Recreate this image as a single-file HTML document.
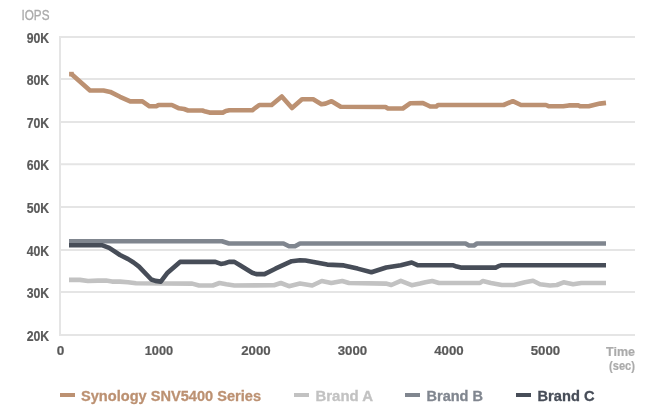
<!DOCTYPE html>
<html><head><meta charset="utf-8"><style>
html,body{margin:0;padding:0;background:#fff;width:660px;height:412px;overflow:hidden}
svg{display:block;will-change:transform;font-family:"Liberation Sans",sans-serif}
</style></head><body>
<svg width="660" height="412" viewBox="0 0 660 412">
<g stroke="#e5e5e5" stroke-width="2" fill="none"><line x1="59" y1="37" x2="635" y2="37"/><line x1="59" y1="79" x2="635" y2="79"/><line x1="59" y1="122" x2="635" y2="122"/><line x1="59" y1="164.3" x2="635" y2="164.3"/><line x1="59" y1="207" x2="635" y2="207"/><line x1="59" y1="250" x2="635" y2="250"/><line x1="59" y1="292" x2="635" y2="292"/><line x1="59" y1="335" x2="635" y2="335"/><line x1="60" y1="36" x2="60" y2="336"/></g>
<text x="21.5" y="19.5" fill="#ababab" stroke="#ababab" stroke-width="0.3" font-size="14" textLength="28" lengthAdjust="spacingAndGlyphs">IOPS</text>
<g fill="#595959" stroke="#595959" stroke-width="0.2" font-size="14.2" font-weight="bold" text-anchor="end"><text x="49.2" y="42.70" textLength="22.5" lengthAdjust="spacingAndGlyphs">90K</text><text x="49.2" y="84.70" textLength="22.5" lengthAdjust="spacingAndGlyphs">80K</text><text x="49.2" y="127.70" textLength="22.5" lengthAdjust="spacingAndGlyphs">70K</text><text x="49.2" y="170.00" textLength="22.5" lengthAdjust="spacingAndGlyphs">60K</text><text x="49.2" y="212.70" textLength="22.5" lengthAdjust="spacingAndGlyphs">50K</text><text x="49.2" y="255.70" textLength="22.5" lengthAdjust="spacingAndGlyphs">40K</text><text x="49.2" y="297.70" textLength="22.5" lengthAdjust="spacingAndGlyphs">30K</text><text x="49.2" y="340.70" textLength="22.5" lengthAdjust="spacingAndGlyphs">20K</text></g>
<g fill="#595959" stroke="#595959" stroke-width="0.2" font-size="13.6" font-weight="bold"><text x="60.5" y="355.4" text-anchor="middle">0</text><text x="159" y="355.4" text-anchor="middle" textLength="28.5" lengthAdjust="spacingAndGlyphs">1000</text><text x="256" y="355.4" text-anchor="middle" textLength="29.5" lengthAdjust="spacingAndGlyphs">2000</text><text x="352.5" y="355.4" text-anchor="middle" textLength="29.5" lengthAdjust="spacingAndGlyphs">3000</text><text x="449" y="355.4" text-anchor="middle" textLength="29.5" lengthAdjust="spacingAndGlyphs">4000</text><text x="545.5" y="355.4" text-anchor="middle" textLength="29.5" lengthAdjust="spacingAndGlyphs">5000</text></g>
<g fill="#ababab" stroke="#ababab" stroke-width="0.2" font-size="13" font-weight="bold" text-anchor="end"><text x="635" y="356" textLength="29" lengthAdjust="spacingAndGlyphs">Time</text><text x="635" y="369.5" textLength="26" lengthAdjust="spacingAndGlyphs">(sec)</text></g>
<g fill="none" stroke-width="4.6" stroke-linejoin="round">
<polyline stroke="#bc9172" points="71.4,74.1 90.0,90.5 103.5,90.5 110.3,91.9 120.0,96.8 130.2,101.4 142.4,101.4 149.5,106.3 156.3,106.3 158.5,105.0 171.9,105.0 179.0,108.3 184.1,109.0 188.1,110.5 202.4,110.5 205.5,111.6 209.5,112.6 222.8,112.6 225.8,111.0 229.4,110.2 252.2,110.3 259.3,105.0 271.6,105.0 281.8,96.5 292.0,108.0 302.0,99.3 313.2,99.3 321.4,104.2 325.5,103.6 331.6,101.2 340.7,106.8 385.5,107.0 388.0,108.5 402.8,108.5 410.4,103.2 423.0,103.1 427.1,105.0 430.2,106.5 436.3,106.5 438.0,105.0 503.6,105.0 512.8,101.2 521.0,105.0 546.0,105.0 549.0,106.3 563.2,106.3 568.8,105.4 578.5,105.4 580.0,106.3 588.7,106.3 593.8,105.0 599.9,103.6 606.0,102.9"/><rect x="69.1" y="71.8" width="4.6" height="4.6" fill="#bc9172" stroke="none"/>
<polyline stroke="#c2c2c2" points="69.0,279.9 80.0,279.9 88.0,281.0 98.0,280.6 106.0,280.6 112.0,281.6 120.0,281.6 128.0,282.3 136.0,283.3 192.2,283.6 199.0,285.5 212.7,285.5 219.5,283.0 226.3,284.3 234.4,285.5 274.0,285.2 280.8,283.0 289.0,286.2 300.0,283.6 312.2,285.5 321.8,281.0 331.3,283.0 342.2,281.0 349.0,283.0 385.9,283.6 391.3,285.0 400.8,280.8 411.7,285.2 420.0,283.6 425.4,282.3 432.2,281.0 439.0,283.0 480.0,283.0 482.7,281.0 490.9,283.0 501.8,285.0 514.0,285.0 524.9,282.3 533.0,280.8 540.0,284.3 550.0,285.5 556.8,285.0 563.6,282.3 573.1,284.3 581.3,283.0 606.0,283.0"/>
<polyline stroke="#80868f" points="69.0,241.2 222.0,241.2 229.0,243.5 283.5,243.5 289.0,246.2 295.0,246.2 300.0,243.5 465.6,243.5 469.0,245.5 474.0,245.5 477.0,243.5 606.0,243.5"/>
<polyline stroke="#474d58" points="69.0,245.3 102.5,245.3 109.2,247.8 120.0,255.0 128.2,259.1 133.6,262.5 139.0,266.6 151.3,279.5 155.4,280.9 160.8,281.6 167.6,272.7 180.0,261.9 215.4,261.9 220.8,263.9 224.9,263.2 229.0,261.9 234.4,261.9 240.0,265.3 252.2,272.7 256.3,274.1 264.5,274.1 275.4,268.7 291.7,261.2 300.0,260.2 305.4,260.5 313.6,261.9 327.2,264.6 343.8,265.4 357.6,268.6 371.4,272.3 386.2,267.5 400.8,265.3 411.7,262.5 418.0,265.3 453.3,265.3 456.7,266.6 460.8,267.6 495.6,267.6 498.4,266.2 501.0,265.3 606.0,265.3"/>
</g>
<g stroke-width="4"><line x1="60" y1="395" x2="75" y2="395" stroke="#bc9172"/><line x1="294" y1="395" x2="309" y2="395" stroke="#c2c2c2"/><line x1="405" y1="395" x2="420" y2="395" stroke="#80868f"/><line x1="516" y1="395" x2="531" y2="395" stroke="#474d58"/></g>
<g font-size="14.5" font-weight="bold" stroke-width="0.3">
<text x="81" y="400.5" fill="#bc9172" stroke="#bc9172" textLength="180" lengthAdjust="spacingAndGlyphs">Synology SNV5400 Series</text>
<text x="315.5" y="400.5" fill="#c2c2c2" stroke="#c2c2c2" textLength="57.5" lengthAdjust="spacingAndGlyphs">Brand A</text>
<text x="426.5" y="400.5" fill="#80868f" stroke="#80868f" textLength="56.5" lengthAdjust="spacingAndGlyphs">Brand B</text>
<text x="537.5" y="400.5" fill="#474d58" stroke="#474d58" textLength="57" lengthAdjust="spacingAndGlyphs">Brand C</text>
</g>
</svg>
</body></html>
